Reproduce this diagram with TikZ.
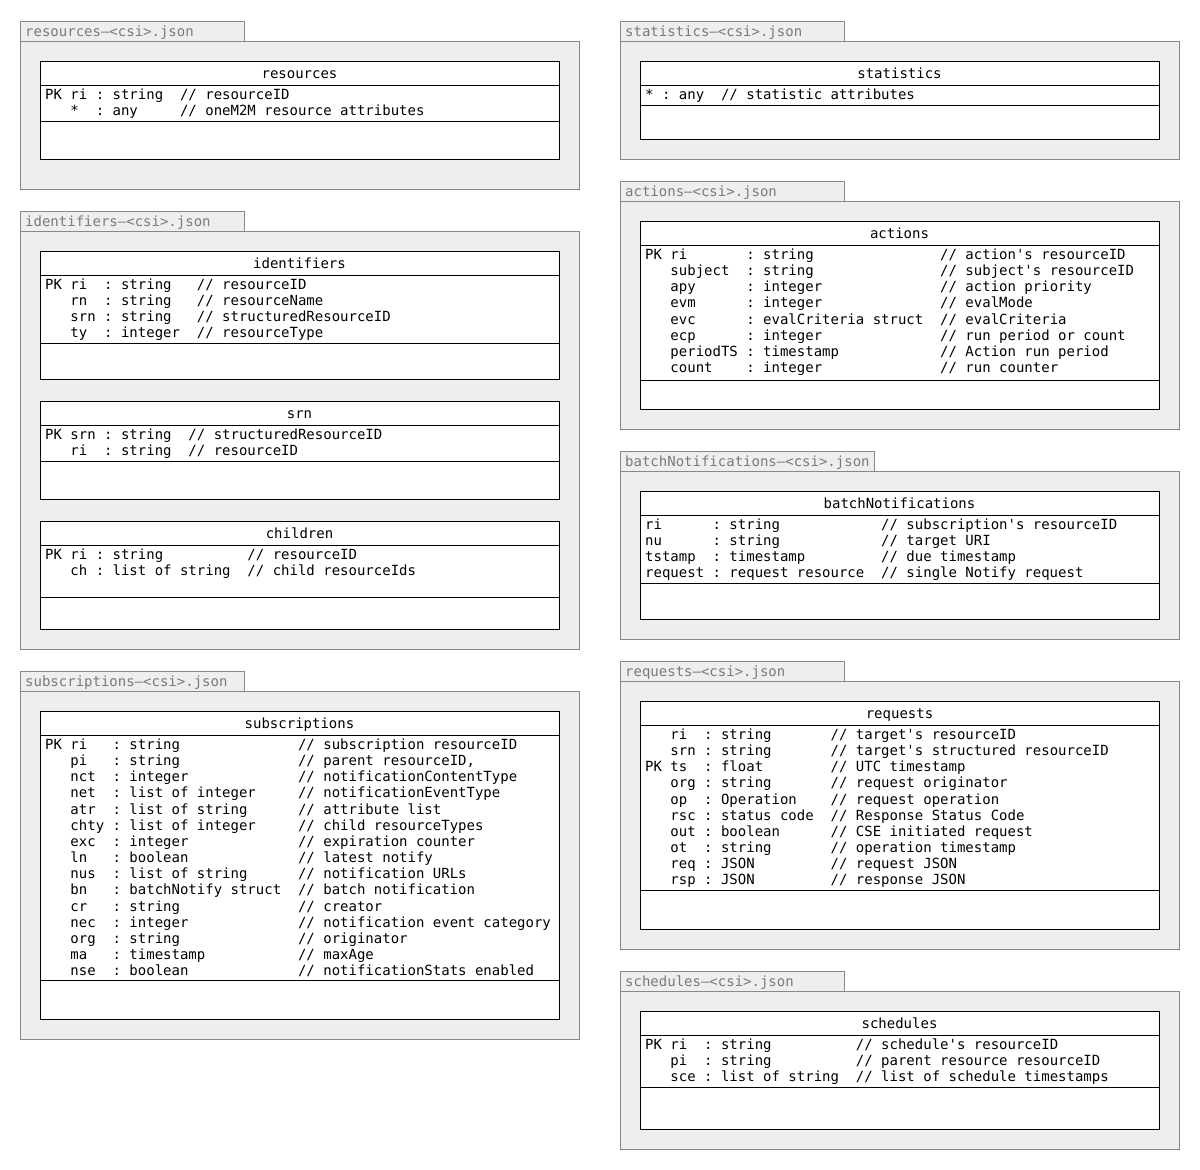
\documentclass[tikz,border=0pt]{standalone}
\usepackage{fontspec}
\setmonofont{DejaVu Sans Mono}
\definecolor{pkgfill}{HTML}{EEEEEE}
\definecolor{pkgdraw}{HTML}{888888}
\definecolor{tabtext}{HTML}{7A7A7A}
\frenchspacing
\tikzset{
  pkgline/.style={draw=pkgdraw, fill=pkgfill, line width=1pt},
  clsline/.style={draw=black, line width=1pt},
  tablabel/.style={anchor=base west, inner sep=0pt, text=tabtext},
  clstitle/.style={anchor=base, inner sep=0pt},
  attr/.style={anchor=base west, inner sep=0pt},
}
% package: #1 name, #2 x, #3 tab top, #4 body bottom, #5 tab width, #6 label
\newcommand\pkgbox[6]{%
  \path[pkgline] (#2,#3) rectangle (#2+#5,#3+20);
  \path[pkgline] (#2,#3+20) rectangle (#2+559,#4);
  \node[tablabel] (#1-tab) at (#2+5,#3+15) {#6};
}
% class: #1 name, #2 x, #3 top, #4 header line, #5 separator, #6 bottom, #7 title
\newcommand\clsbox[7]{%
  \filldraw[clsline, fill=white] (#2,#3) rectangle (#2+519,#6);
  \draw[clsline] (#2,#4) -- (#2+519,#4);
  \draw[clsline] (#2,#5) -- (#2+519,#5);
  \node[clstitle] (#1-title) at (#2+259.5,#3+17) {#7};
}
% attributes: #1 name, #2 x, #3 header line, #4 list of lines
\newcommand\clsattrs[4]{%
  \foreach \t [count=\i] in {#4} {
    \node[attr] (#1-a\i) at (#2+5,{#3+14.5+(\i-1)*16.15}) {\t};
  }
}
\begin{document}
\begin{tikzpicture}[x=1pt, y=-1pt, font=\ttfamily\fontsize{14}{16}\selectfont]
\useasboundingbox (0,0) rectangle (1200,1170);

% ---------- left column ----------
\pkgbox{presources}{20}{21}{189}{224}{resources–<csi>.json}
\clsbox{resources}{40}{61}{85}{121}{159}{resources}
\clsattrs{resources}{40}{85}{
  {PK~ri~:~string~~//~resourceID},
  {~~~*~~:~any~~~~~//~oneM2M~resource~attributes}}

\pkgbox{pidentifiers}{20}{211}{649}{224}{identifiers–<csi>.json}
\clsbox{identifiers}{40}{251}{275}{343}{379}{identifiers}
\clsattrs{identifiers}{40}{275}{
  {PK~ri~~:~string~~~//~resourceID},
  {~~~rn~~:~string~~~//~resourceName},
  {~~~srn~:~string~~~//~structuredResourceID},
  {~~~ty~~:~integer~~//~resourceType}}
\clsbox{srn}{40}{401}{425}{461}{499}{srn}
\clsattrs{srn}{40}{425}{
  {PK~srn~:~string~~//~structuredResourceID},
  {~~~ri~~:~string~~//~resourceID}}
\clsbox{children}{40}{521}{545}{597}{629}{children}
\clsattrs{children}{40}{545}{
  {PK~ri~:~string~~~~~~~~~~//~resourceID},
  {~~~ch~:~list~of~string~~//~child~resourceIds}}

\pkgbox{psubscriptions}{20}{671}{1039}{224}{subscriptions–<csi>.json}
\clsbox{subscriptions}{40}{711}{735}{980}{1019}{subscriptions}
\clsattrs{subscriptions}{40}{735}{
  {PK~ri~~~:~string~~~~~~~~~~~~~~//~subscription~resourceID},
  {~~~pi~~~:~string~~~~~~~~~~~~~~//~parent~resourceID,},
  {~~~nct~~:~integer~~~~~~~~~~~~~//~notificationContentType},
  {~~~net~~:~list~of~integer~~~~~//~notificationEventType},
  {~~~atr~~:~list~of~string~~~~~~//~attribute~list},
  {~~~chty~:~list~of~integer~~~~~//~child~resourceTypes},
  {~~~exc~~:~integer~~~~~~~~~~~~~//~expiration~counter},
  {~~~ln~~~:~boolean~~~~~~~~~~~~~//~latest~notify},
  {~~~nus~~:~list~of~string~~~~~~//~notification~URLs},
  {~~~bn~~~:~batchNotify~struct~~//~batch~notification},
  {~~~cr~~~:~string~~~~~~~~~~~~~~//~creator},
  {~~~nec~~:~integer~~~~~~~~~~~~~//~notification~event~category},
  {~~~org~~:~string~~~~~~~~~~~~~~//~originator},
  {~~~ma~~~:~timestamp~~~~~~~~~~~//~maxAge},
  {~~~nse~~:~boolean~~~~~~~~~~~~~//~notificationStats~enabled}}

% ---------- right column ----------
\pkgbox{pstatistics}{620}{21}{159}{224}{statistics–<csi>.json}
\clsbox{statistics}{640}{61}{85}{105}{139}{statistics}
\clsattrs{statistics}{640}{85}{
  {*~:~any~~//~statistic~attributes}}

\pkgbox{pactions}{620}{181}{429}{224}{actions–<csi>.json}
\clsbox{actions}{640}{221}{245}{380}{409}{actions}
\clsattrs{actions}{640}{245}{
  {PK~ri~~~~~~~:~string~~~~~~~~~~~~~~~//~action's~resourceID},
  {~~~subject~~:~string~~~~~~~~~~~~~~~//~subject's~resourceID},
  {~~~apy~~~~~~:~integer~~~~~~~~~~~~~~//~action~priority},
  {~~~evm~~~~~~:~integer~~~~~~~~~~~~~~//~evalMode},
  {~~~evc~~~~~~:~evalCriteria~struct~~//~evalCriteria},
  {~~~ecp~~~~~~:~integer~~~~~~~~~~~~~~//~run~period~or~count},
  {~~~periodTS~:~timestamp~~~~~~~~~~~~//~Action~run~period},
  {~~~count~~~~:~integer~~~~~~~~~~~~~~//~run~counter}}

\pkgbox{pbatch}{620}{451}{639}{254}{batchNotifications–<csi>.json}
\clsbox{batchNotifications}{640}{491}{515}{583}{619}{batchNotifications}
\clsattrs{batchNotifications}{640}{515}{
  {ri~~~~~~:~string~~~~~~~~~~~~//~subscription's~resourceID},
  {nu~~~~~~:~string~~~~~~~~~~~~//~target~URI},
  {tstamp~~:~timestamp~~~~~~~~~//~due~timestamp},
  {request~:~request~resource~~//~single~Notify~request}}

\pkgbox{prequests}{620}{661}{949}{224}{requests–<csi>.json}
\clsbox{requests}{640}{701}{725}{890}{929}{requests}
\clsattrs{requests}{640}{725}{
  {~~~ri~~:~string~~~~~~~//~target's~resourceID},
  {~~~srn~:~string~~~~~~~//~target's~structured~resourceID},
  {PK~ts~~:~float~~~~~~~~//~UTC~timestamp},
  {~~~org~:~string~~~~~~~//~request~originator},
  {~~~op~~:~Operation~~~~//~request~operation},
  {~~~rsc~:~status~code~~//~Response~Status~Code},
  {~~~out~:~boolean~~~~~~//~CSE~initiated~request},
  {~~~ot~~:~string~~~~~~~//~operation~timestamp},
  {~~~req~:~JSON~~~~~~~~~//~request~JSON},
  {~~~rsp~:~JSON~~~~~~~~~//~response~JSON}}

\pkgbox{pschedules}{620}{971}{1149}{224}{schedules–<csi>.json}
\clsbox{schedules}{640}{1011}{1035}{1087}{1129}{schedules}
\clsattrs{schedules}{640}{1035}{
  {PK~ri~~:~string~~~~~~~~~~//~schedule's~resourceID},
  {~~~pi~~:~string~~~~~~~~~~//~parent~resource~resourceID},
  {~~~sce~:~list~of~string~~//~list~of~schedule~timestamps}}
\end{tikzpicture}
\end{document}
